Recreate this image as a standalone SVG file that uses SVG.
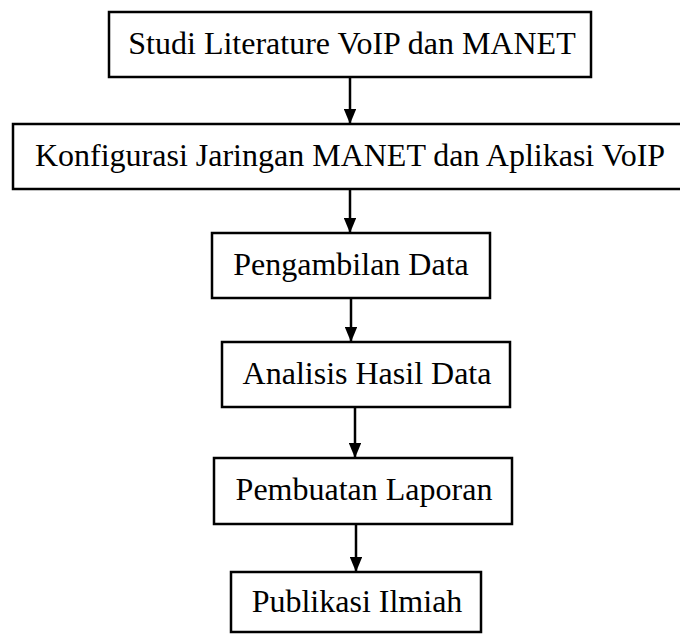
<svg xmlns="http://www.w3.org/2000/svg" width="680" height="635" viewBox="0 0 680 635">
  <style>
    .box { fill: #ffffff; stroke: #000000; stroke-width: 2.5; }
    .lbl { font-family: "Liberation Serif", "Times New Roman", serif; font-size: 32px; fill: #000000; text-anchor: middle; }
    .link { stroke: #000000; stroke-width: 2.5; fill: none; marker-end: url(#arrow); }
  </style>
  <defs>
    <marker id="arrow" viewBox="0 0 12 10" refX="12" refY="5" markerWidth="6" markerHeight="5" markerUnits="strokeWidth" orient="auto">
      <path d="M0,0 L12,5 L0,10 Z" fill="#000000"/>
    </marker>
  </defs>
  <rect width="680" height="635" fill="#ffffff"/>

  <g id="connectors">
    <line class="link" x1="350" y1="77" x2="350" y2="124"/>
    <line class="link" x1="350" y1="189" x2="350" y2="233"/>
    <line class="link" x1="351" y1="298" x2="351" y2="342"/>
    <line class="link" x1="355" y1="407" x2="355" y2="458"/>
    <line class="link" x1="356" y1="524" x2="356" y2="572"/>
  </g>

  <g id="studi-literature">
    <rect class="box" x="109" y="12" width="482" height="65"/>
    <text class="lbl" x="352" y="54">Studi Literature VoIP dan MANET</text>
  </g>
  <g id="konfigurasi">
    <rect class="box" x="13" y="124" width="672" height="65"/>
    <text class="lbl" x="350" y="166">Konfigurasi Jaringan MANET dan Aplikasi VoIP</text>
  </g>
  <g id="pengambilan-data">
    <rect class="box" x="212" y="233" width="278" height="65"/>
    <text class="lbl" x="351" y="275">Pengambilan Data</text>
  </g>
  <g id="analisis-hasil-data">
    <rect class="box" x="222" y="342" width="288" height="65"/>
    <text class="lbl" x="367" y="384">Analisis Hasil Data</text>
  </g>
  <g id="pembuatan-laporan">
    <rect class="box" x="214" y="458" width="298" height="66"/>
    <text class="lbl" x="364" y="500">Pembuatan Laporan</text>
  </g>
  <g id="publikasi-ilmiah">
    <rect class="box" x="231" y="572" width="250" height="60"/>
    <text class="lbl" x="357" y="612">Publikasi Ilmiah</text>
  </g>
</svg>
